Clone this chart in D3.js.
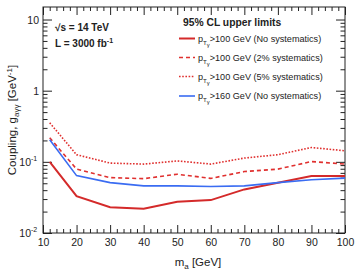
<!DOCTYPE html>
<html>
<head>
<meta charset="utf-8">
<script src="https://cdn.jsdelivr.net/npm/d3@7"></script>
<style>
  html, body { margin: 0; padding: 0; background: #fff; }
  svg { display: block; font-family: "Liberation Sans", Arial, sans-serif; }
</style>
</head>
<body>
<div id="chart"></div>
<script>
// axion mass points [GeV]
const massPoints = [12, 20, 30, 40, 50, 60, 70, 80, 90, 100];

// 95% CL upper limits on coupling [GeV^-1]
const pt100NoSyst = [0.100, 0.033, 0.023, 0.022, 0.0275, 0.029, 0.041, 0.051, 0.063, 0.063];
const pt100Syst2 = [0.218, 0.079, 0.060, 0.058, 0.067, 0.0585, 0.073, 0.079, 0.101, 0.093];
const pt100Syst5 = [0.354, 0.126, 0.096, 0.093, 0.103, 0.093, 0.113, 0.126, 0.159, 0.143];
const pt160NoSyst = [0.205, 0.064, 0.051, 0.046, 0.046, 0.045, 0.046, 0.051, 0.056, 0.059];

const xMajorTicks = [10, 20, 30, 40, 50, 60, 70, 80, 90, 100];
const yMajorTicks = [0.01, 0.1, 1, 10];
const yTickLabels = [["10", "-2"], ["10", "-1"], ["1", ""], ["10", ""]];

const series = [
  { label: ">100 GeV (No systematics)", values: pt100NoSyst, color: "#d42a2a", width: 2, dash: null },
  { label: ">100 GeV (2% systematics)", values: pt100Syst2, color: "#e0302f", width: 1.6, dash: "4,3" },
  { label: ">100 GeV (5% systematics)", values: pt100Syst5, color: "#e0302f", width: 1.6, dash: "1.6,1.6" },
  { label: ">160 GeV (No systematics)", values: pt160NoSyst, color: "#3a6cf2", width: 1.6, dash: null }
];

const width = 357, height = 275;
const plotLeft = 43, plotRight = 345, plotTop = 7, plotBottom = 233;

const svg = d3.select("#chart").append("svg")
  .attr("width", width)
  .attr("height", height);

const x = d3.scaleLinear().domain([10, 100]).range([plotLeft, plotRight]);
const y = d3.scaleLog().domain([0.01, 15]).range([plotBottom, plotTop]);

// minor ticks
const xMinor = d3.range(10, 101, 2).filter(v => v % 10 !== 0);
const yMinor = [];
[0.01, 0.1, 1, 10].forEach(d => {
  for (let k = 2; k <= 9; k++) if (d * k <= 15) yMinor.push(d * k);
});

const axisColor = "#222";

function styleAxis(g) {
  g.select(".domain").remove();
  g.selectAll(".tick line").attr("stroke", axisColor).attr("stroke-width", 1);
  g.selectAll("text").attr("fill", axisColor).attr("font-size", 10.5);
}

// x axis bottom
svg.append("g")
  .attr("transform", `translate(0,${plotBottom})`)
  .call(d3.axisBottom(x).tickValues(xMajorTicks).tickSize(-8).tickPadding(6).tickFormat(d3.format("d")))
  .call(styleAxis);
svg.append("g")
  .attr("transform", `translate(0,${plotBottom})`)
  .call(d3.axisBottom(x).tickValues(xMinor).tickSize(-4).tickFormat(""))
  .call(styleAxis);
// x axis top (mirrored)
svg.append("g")
  .attr("transform", `translate(0,${plotTop})`)
  .call(d3.axisTop(x).tickValues(xMajorTicks).tickSize(-8).tickFormat(""))
  .call(styleAxis);
svg.append("g")
  .attr("transform", `translate(0,${plotTop})`)
  .call(d3.axisTop(x).tickValues(xMinor).tickSize(-4).tickFormat(""))
  .call(styleAxis);

// y axis left
svg.append("g")
  .attr("transform", `translate(${plotLeft},0)`)
  .call(d3.axisLeft(y).tickValues(yMajorTicks).tickSize(-9).tickFormat(""))
  .call(styleAxis);
svg.append("g")
  .attr("transform", `translate(${plotLeft},0)`)
  .call(d3.axisLeft(y).tickValues(yMinor).tickSize(-4.5).tickFormat(""))
  .call(styleAxis);
// y axis right
svg.append("g")
  .attr("transform", `translate(${plotRight},0)`)
  .call(d3.axisRight(y).tickValues(yMajorTicks).tickSize(-9).tickFormat(""))
  .call(styleAxis);
svg.append("g")
  .attr("transform", `translate(${plotRight},0)`)
  .call(d3.axisRight(y).tickValues(yMinor).tickSize(-4.5).tickFormat(""))
  .call(styleAxis);

// y tick labels with superscripts
yMajorTicks.forEach((v, i) => {
  svg.append("text")
    .attr("x", i >= 2 ? plotLeft - 4 : plotLeft - 12)
    .attr("y", y(v) + 4)
    .attr("text-anchor", "end")
    .attr("font-size", 10.5)
    .attr("fill", axisColor)
    .text(yTickLabels[i][0]);
  if (yTickLabels[i][1]) {
    svg.append("text")
      .attr("x", plotLeft - 12)
      .attr("y", y(v) - 1)
      .attr("font-size", 7)
      .attr("fill", axisColor)
      .text(yTickLabels[i][1]);
  }
});

// frame
svg.append("rect")
  .attr("x", plotLeft).attr("y", plotTop)
  .attr("width", plotRight - plotLeft).attr("height", plotBottom - plotTop)
  .attr("fill", "none").attr("stroke", axisColor).attr("stroke-width", 1);

// lines
const line = d3.line()
  .x((d, i) => x(massPoints[i]))
  .y(d => y(d));

series.forEach(s => {
  svg.append("path")
    .datum(s.values)
    .attr("d", line)
    .attr("fill", "none")
    .attr("stroke", s.color)
    .attr("stroke-width", s.width)
    .attr("stroke-dasharray", s.dash);
});

// axis titles
const xt = svg.append("text")
  .attr("x", (plotLeft + plotRight) / 2 + 4)
  .attr("y", 266)
  .attr("text-anchor", "middle")
  .attr("font-size", 11.5)
  .attr("fill", axisColor);
xt.append("tspan").text("m");
xt.append("tspan").attr("font-size", 8).attr("dy", 3).text("a");
xt.append("tspan").attr("dy", -3).text(" [GeV]");

const yt = svg.append("text")
  .attr("transform", `translate(16,${(plotTop + plotBottom) / 2}) rotate(-90)`)
  .attr("text-anchor", "middle")
  .attr("font-size", 11.5)
  .attr("fill", axisColor);
yt.append("tspan").text("Coupling, g");
yt.append("tspan").attr("font-size", 8).attr("dy", 3).text("aγγ");
yt.append("tspan").attr("dy", -3).text(" [GeV");
yt.append("tspan").attr("font-size", 8).attr("dy", -4).text("-1");
yt.append("tspan").attr("dy", 4).text("]");

// energy / luminosity labels
svg.append("text")
  .attr("x", 55).attr("y", 31)
  .attr("font-size", 10).attr("font-weight", "bold").attr("fill", axisColor)
  .text("√s = 14 TeV");
const lumi = svg.append("text")
  .attr("x", 55).attr("y", 47)
  .attr("font-size", 10).attr("font-weight", "bold").attr("fill", axisColor);
lumi.append("tspan").text("L = 3000 fb");
lumi.append("tspan").attr("font-size", 7).attr("dy", -4).text("-1");

// legend
svg.append("text")
  .attr("x", 183).attr("y", 26)
  .attr("font-size", 10.3).attr("font-weight", "bold").attr("fill", axisColor)
  .text("95% CL upper limits");

const legendRows = [38.5, 57.5, 76.5, 96];
series.forEach((s, i) => {
  const ly = legendRows[i];
  svg.append("line")
    .attr("x1", 179).attr("x2", 195)
    .attr("y1", ly).attr("y2", ly)
    .attr("stroke", s.color)
    .attr("stroke-width", s.width)
    .attr("stroke-dasharray", s.dash);
  const t = svg.append("text")
    .attr("x", 198).attr("y", ly + 3)
    .attr("font-size", 9.1).attr("fill", axisColor);
  t.append("tspan").text("p");
  t.append("tspan").attr("font-size", 6.2).attr("dy", 3).text("T");
  t.append("tspan").attr("font-size", 5.8).attr("dy", 2).text("γ");
  t.append("tspan").attr("dy", -5).text(s.label);
});
</script>
</body>
</html>
